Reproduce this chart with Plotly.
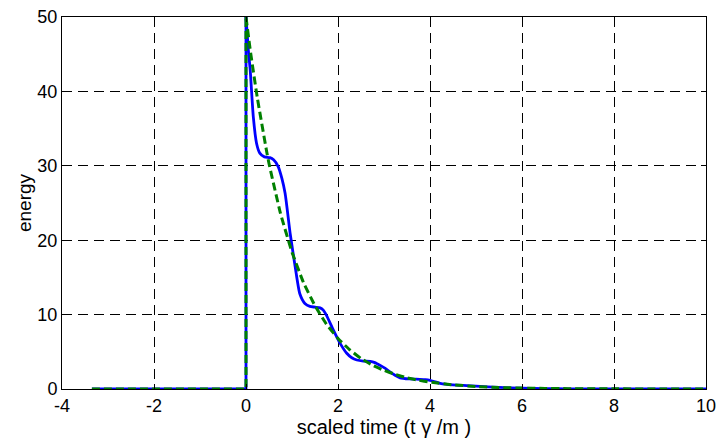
import plotly.graph_objects as go

# Blue (solid) series: scaled time vs energy
blue_t = [-3.35, 0.0, 0.0, 0.05, 0.09, 0.16, 0.23, 0.30, 0.40, 0.52, 0.60, 0.70, 0.78, 0.85,
          0.96, 1.07, 1.17, 1.28, 1.39, 1.50, 1.61, 1.68, 1.75, 1.90, 2.04, 2.19, 2.30, 2.41,
          2.55, 2.70, 2.80, 2.91, 3.02, 3.13, 3.24, 3.35, 3.55, 3.78, 3.90, 4.00, 4.22, 4.50,
          4.80, 5.00, 5.50, 6.00, 6.50, 7.00, 8.00, 9.00, 10.0]
blue_e = [0.0, 0.0, 50.0, 45.6, 43.0, 36.5, 33.0, 31.7, 31.2, 31.1, 30.8, 29.9, 28.3, 26.3,
          20.9, 16.4, 12.8, 11.5, 11.1, 11.0, 10.9, 10.6, 9.9, 7.9, 6.2, 4.8, 4.2, 3.9,
          3.75, 3.7, 3.55, 3.2, 2.8, 2.3, 1.85, 1.5, 1.35, 1.3, 1.25, 1.15, 0.77, 0.55,
          0.45, 0.38, 0.22, 0.11, 0.05, 0.02, 0.0, 0.0, 0.0]

# Green (dashed) series
green_t = [-3.35, 0.0, 0.0, 0.10, 0.25, 0.45, 0.50, 0.75, 1.00, 1.25, 1.50, 1.75, 2.00, 2.25,
           2.50, 2.75, 3.00, 3.25, 3.50, 3.75, 4.00, 4.50, 5.00, 5.50, 6.00, 6.50, 7.00,
           8.00, 9.00, 10.0]
green_e = [0.0, 0.0, 50.0, 45.2, 39.0, 31.9, 30.3, 23.6, 18.4, 14.3, 11.2, 8.7, 6.8, 5.3,
           4.1, 3.2, 2.5, 1.95, 1.5, 1.18, 0.92, 0.56, 0.34, 0.2, 0.12, 0.08, 0.05,
           0.02, 0.01, 0.0]

x_ticks = [-4, -2, 0, 2, 4, 6, 8, 10]
x_tick_labels = ["-4", "-2", "0", "2", "4", "6", "8", "10"]
y_ticks = [0, 10, 20, 30, 40, 50]
y_tick_labels = ["0", "10", "20", "30", "40", "50"]

BLUE = dict(color="#0000ff", width=2.8)
GREEN = dict(color="#008000", width=3, dash="8px,4px")

fig = go.Figure()
# blue: step part (linear) + decay part (smooth)
fig.add_trace(go.Scatter(x=blue_t[:3], y=blue_e[:3], mode="lines",
                         line=dict(**BLUE, shape="linear"), showlegend=False))
fig.add_trace(go.Scatter(x=blue_t[2:], y=blue_e[2:], mode="lines",
                         line=dict(**BLUE, shape="spline", smoothing=0.6), showlegend=False))
# green on top
fig.add_trace(go.Scatter(x=green_t[:3], y=green_e[:3], mode="lines",
                         line=dict(**GREEN, shape="linear"), showlegend=False))
fig.add_trace(go.Scatter(x=green_t[2:], y=green_e[2:], mode="lines",
                         line=dict(**GREEN, shape="spline", smoothing=0.4), showlegend=False))

FAM = "Liberation Sans, Arial, sans-serif"
tickfont = dict(family=FAM, size=18, color="black")
axis_common = dict(showline=True, linecolor="black", linewidth=1, mirror="ticks",
                   ticks="inside", ticklen=5, tickcolor="black", zeroline=False,
                   showgrid=True, gridcolor="black", gridwidth=1, griddash="10px,6px",
                   tickfont=tickfont, automargin=False)

fig.update_xaxes(range=[-4, 10], tickvals=x_ticks, ticktext=x_tick_labels,
                 title=dict(text="scaled time (t γ /m )",
                            font=dict(family=FAM, size=20, color="black"), standoff=0),
                 **axis_common)
fig.update_yaxes(range=[0, 50], tickvals=y_ticks, ticktext=y_tick_labels,
                 title=dict(text="energy",
                            font=dict(family=FAM, size=19, color="black"), standoff=0),
                 **axis_common)

fig.update_layout(width=717, height=438, margin=dict(l=62, r=11, t=17, b=49),
                  paper_bgcolor="white", plot_bgcolor="white",
                  font=dict(family=FAM, size=18, color="black"))

fig.write_html("out.html")
